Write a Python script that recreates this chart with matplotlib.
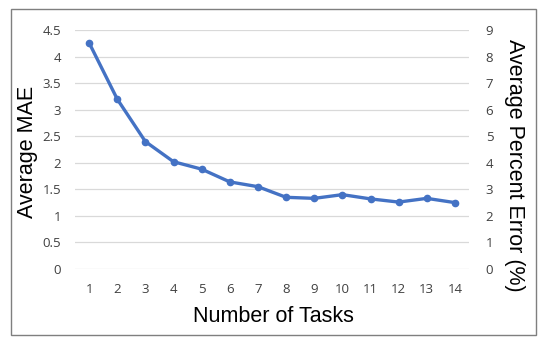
import matplotlib.pyplot as plt
from matplotlib.patches import Rectangle

# data
tasks = list(range(1, 15))
avg_mae = [4.26, 3.20, 2.40, 2.02, 1.88, 1.64, 1.55, 1.35, 1.33, 1.40, 1.32, 1.26, 1.33, 1.25]
left_ticks = [0, 0.5, 1, 1.5, 2, 2.5, 3, 3.5, 4, 4.5]
right_ticks = [0, 1, 2, 3, 4, 5, 6, 7, 8, 9]

blue = '#4472C4'
tick_col = '#404040'

fig = plt.figure(figsize=(5.5, 3.49), dpi=100)
fig.patches.append(Rectangle((11 / 550, 1 - 335 / 349), 525 / 550, 326 / 349,
                             transform=fig.transFigure, fill=False,
                             edgecolor='#7f7f7f', linewidth=1.0))

ax = fig.add_axes([75 / 550, 1 - 269 / 349, 394 / 550, 239 / 349])
ax.plot(tasks, avg_mae, color=blue, linewidth=2.4, marker='o', markersize=4.5,
        solid_capstyle='round', zorder=3)

ax.set_xlim(0.5, 14.5)
ax.set_ylim(0, 4.5)
ax.set_xticks(tasks)
ax.set_yticks(left_ticks)
ax.set_yticklabels([f'{t:g}' for t in left_ticks])
ax.grid(axis='y', color='#d9d9d9', linewidth=0.9)
ax.set_axisbelow(True)
for s in ax.spines.values():
    s.set_visible(False)
ax.tick_params(length=0, labelsize=9.5, labelcolor=tick_col, pad=10)
for lab in ax.get_xticklabels() + ax.get_yticklabels():
    lab.set_family('Open Sans')

ax2 = ax.twinx()
ax2.set_ylim(0, 9)
ax2.set_yticks(right_ticks)
for s in ax2.spines.values():
    s.set_visible(False)
ax2.tick_params(length=0, labelsize=9.5, labelcolor=tick_col, pad=12)
for lab in ax2.get_yticklabels():
    lab.set_family('Open Sans')

fig.text(28 / 550, 1 - 152 / 349, 'Average MAE', rotation=90, ha='center', va='center',
         fontsize=15.5, family='Liberation Sans')
fig.text(514 / 550, 1 - 165 / 349, 'Average Percent Error (%)', rotation=270,
         ha='center', va='center', fontsize=15.5, family='Liberation Sans')
fig.text(273 / 550, 1 - 317 / 349, 'Number of Tasks', ha='center', va='center',
         fontsize=15.5, family='Liberation Sans')

fig.savefig('out.png', dpi=100)
